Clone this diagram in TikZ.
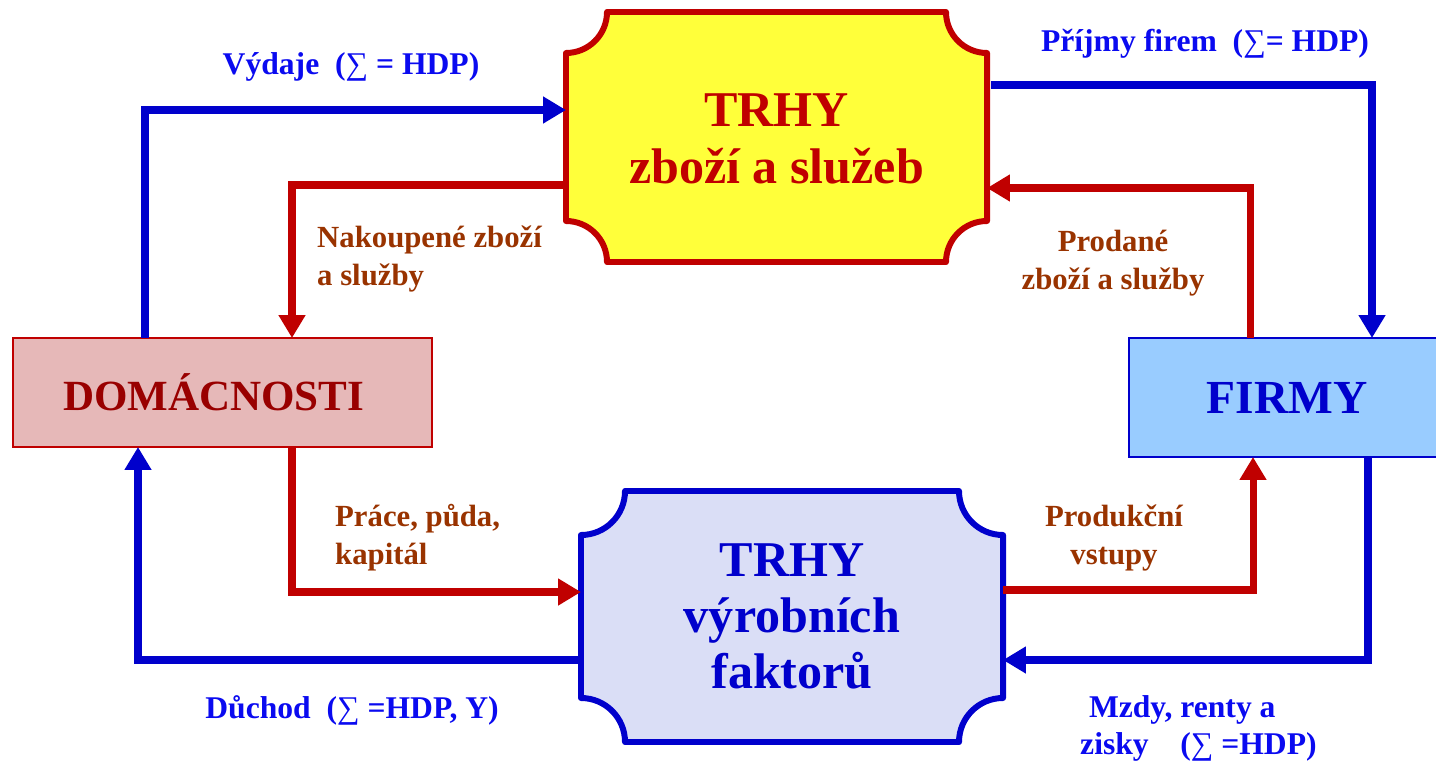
\documentclass[tikz,border=0pt]{standalone}
\usepackage{fontspec}
\setmainfont{Liberation Serif}
\usetikzlibrary{arrows.meta,calc}
\definecolor{lblue}{HTML}{0000CC}
\definecolor{tblue}{HTML}{0A0AF0}
\definecolor{lred}{HTML}{C00000}
\definecolor{dred}{HTML}{990000}
\definecolor{brown}{HTML}{993300}
\definecolor{yel}{HTML}{FFFF3A}
\definecolor{pblue}{HTML}{DADEF6}
\definecolor{pink}{HTML}{E6B8B8}
\definecolor{sky}{HTML}{99CCFF}
\newcommand{\sm}{{\mdseries ∑}}
\tikzset{
  bflow/.style={draw=lblue, line width=4.6pt, -{Triangle[length=13pt,width=14.5pt]}},
  rflow/.style={draw=lred, line width=4pt, -{Triangle[length=13pt,width=14.5pt]}},
  bigtxt/.style={font=\bfseries\fontsize{28.5}{32}\selectfont, align=center},
  blab/.style={font=\bfseries\fontsize{18}{21}\selectfont, text=tblue},
  rlab/.style={font=\bfseries\fontsize{17.5}{21.5}\selectfont, text=brown},
  anchorbox/.style={rectangle, inner sep=0pt, outer sep=0pt},
}
\begin{document}
\begin{tikzpicture}[x=0.02cm, y=-0.02cm]
\useasboundingbox (0,0) rectangle (1436,761);
% notched boxes
\fill[yel] (566+41,12) -- (987-41,12) arc[start angle=180,end angle=90,radius=41]
  -- (987,262-41) arc[start angle=270,end angle=180,radius=41]
  -- (566+41,262) arc[start angle=0,end angle=-90,radius=41]
  -- (566,12+41) arc[start angle=90,end angle=0,radius=41] -- cycle;
\draw[lred, line width=3.4pt, line join=round] (566+41,12) -- (987-41,12) arc[start angle=180,end angle=90,radius=41]
  -- (987,262-41) arc[start angle=270,end angle=180,radius=41]
  -- (566+41,262) arc[start angle=0,end angle=-90,radius=41]
  -- (566,12+41) arc[start angle=90,end angle=0,radius=41] -- cycle;
\fill[pblue] (581+44,491) -- (1003-44,491) arc[start angle=180,end angle=90,radius=44]
  -- (1003,742-44) arc[start angle=270,end angle=180,radius=44]
  -- (581+44,742) arc[start angle=0,end angle=-90,radius=44]
  -- (581,491+44) arc[start angle=90,end angle=0,radius=44] -- cycle;
\draw[lblue, line width=3.4pt, line join=round] (581+44,491) -- (1003-44,491) arc[start angle=180,end angle=90,radius=44]
  -- (1003,742-44) arc[start angle=270,end angle=180,radius=44]
  -- (581+44,742) arc[start angle=0,end angle=-90,radius=44]
  -- (581,491+44) arc[start angle=90,end angle=0,radius=44] -- cycle;
% nodes
\node[anchorbox, minimum width=421*0.02cm, minimum height=250*0.02cm, bigtxt, text=lred] (top) at (776.5,139)
  {TRHY\\zboží a služeb};
\node[anchorbox, minimum width=422*0.02cm, minimum height=251*0.02cm, bigtxt, text=lblue] (bot) at (792,616.5)
  {TRHY\\výrobních\\faktorů};
\node[anchorbox, draw=lred, line width=1.2pt, fill=pink, minimum width=419*0.02cm, minimum height=109*0.02cm,
  font=\bfseries\fontsize{24.5}{28}\selectfont, text=dred] (dom) at (222.5,392.5) {DOMÁCNOSTI\hspace*{10pt}};
\node[anchorbox, draw=lblue, line width=1.2pt, fill=sky, minimum width=316*0.02cm, minimum height=119*0.02cm,
  font=\bfseries\fontsize{27}{30}\selectfont, text=lblue] (firmy) at (1287,397.5) {FIRMY};
% blue flows
\draw[bflow] ($(dom.north west)+(132,0)$) |- ($(top.west)+(0,-29)$);
\draw[bflow] ($(top.east)+(4,-54)$) -| ($(firmy.north west)+(243,0)$);
\draw[bflow] ($(firmy.south west)+(239,0)$) |- ($(bot.east)+(0,43.5)$);
\draw[bflow] ($(bot.west)+(0,43.5)$) -| ($(dom.south west)+(125,0)$);
% red flows
\draw[rflow] ($(top.west)+(0,46)$) -| ($(dom.north west)+(279,0)$);
\draw[rflow] ($(firmy.north west)+(121,0)$) |- ($(top.east)+(0,49)$);
\draw[rflow] ($(dom.south west)+(279,0)$) |- ($(bot.west)+(0,-24.5)$);
\draw[rflow] ($(bot.east)+(0,-26.5)$) -| ($(firmy.south west)+(124,0)$);
% labels
\node[blab] (l1) at (351,67) {Výdaje\ \ (\sm{} = HDP)};
\node[blab] (l2) at (1205,44) {Příjmy firem\ \ (\sm= HDP)};
\node[blab] (l3) at (352,710) {Důchod\ \ (\sm{} =HDP, Y)};
\node[blab, align=left, anchor=west] (l4) at (1074,728) {\hspace*{5pt}Mzdy, renty a\\zisky\ \ \ \ (\sm{} =HDP)};
\node[rlab, align=left, anchor=west] (l5) at (311,259) {Nakoupené zboží\\a služby};
\node[rlab, align=center] (l6) at (1113,263) {Prodané\\zboží a služby};
\node[rlab, align=left, anchor=west] (l7) at (329,538) {Práce, půda,\\kapitál};
\node[rlab, align=center] (l8) at (1114,538) {Produkční\\vstupy};
\end{tikzpicture}
\end{document}
